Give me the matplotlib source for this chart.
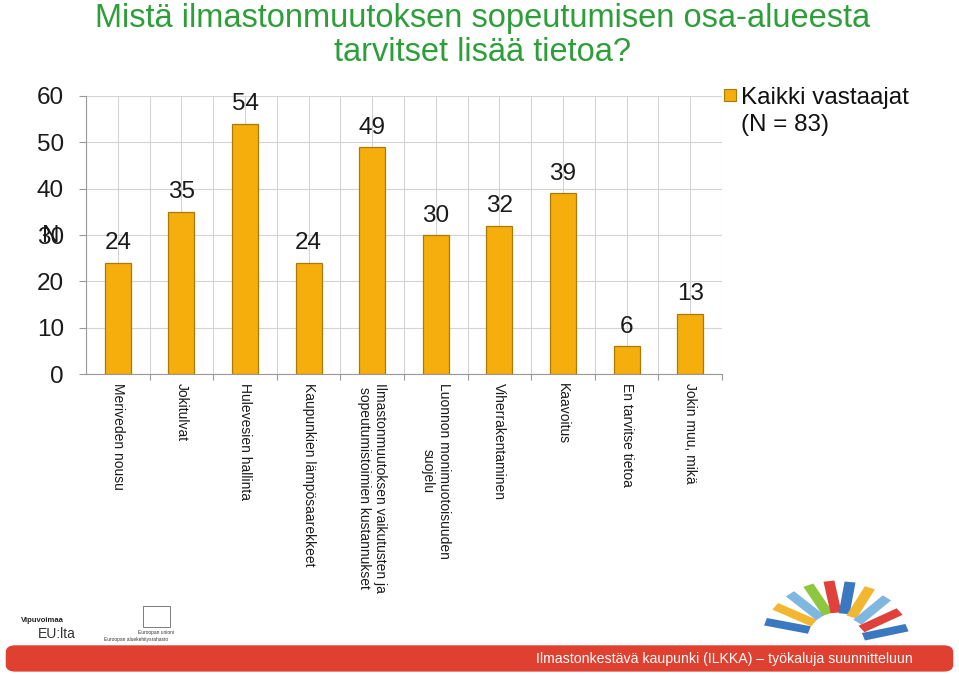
import numpy as np
import matplotlib
matplotlib.use("Agg")
import matplotlib.pyplot as plt
import matplotlib.patches as mpatches

plt.rcParams['font.family'] = ['Liberation Sans', 'DejaVu Sans']

# Chart data
categories = [
    "Meriveden nousu",
    "Jokitulvat",
    "Hulevesien hallinta",
    "Kaupunkien lämpösaarekkeet",
    "Ilmastonmuutoksen vaikutusten ja\nsopeutumistoimien kustannukset",
    "Luonnon monimuotoisuuden\nsuojelu",
    "Viherrakentaminen",
    "Kaavoitus",
    "En tarvitse tietoa",
    "Jokin muu, mikä",
]
values = [24, 35, 54, 24, 49, 30, 32, 39, 6, 13]
y_ticks = [0, 10, 20, 30, 40, 50, 60]
series_label = "Kaikki vastaajat\n(N = 83)"
title = "Mistä ilmastonmuutoksen sopeutumisen osa-alueesta\ntarvitset lisää tietoa?"
footer = "Ilmastonkestävä kaupunki (ILKKA) – työkaluja suunnitteluun"

bar_color = '#F5AE0C'
edge_color = '#A87A08'
title_color = '#2E9E3A'

fig = plt.figure(figsize=(9.59, 6.75), dpi=100)
ax = fig.add_axes([0.0897, 0.4459, 0.6632, 0.4119])

x = np.arange(len(categories))
ax.bar(x, values, width=0.41, color=bar_color, edgecolor=edge_color, linewidth=0.9,
       zorder=3, label=series_label)

for xi, v in zip(x, values):
    ax.annotate(str(v), (xi, v), xytext=(0, 6), textcoords='offset points',
                ha='center', va='bottom', fontsize=17.5, color='#1a1a1a')

ax.set_xlim(-0.5, len(categories) - 0.5)
ax.set_ylim(0, 60)
ax.set_yticks(y_ticks)
ax.set_yticklabels([str(t) for t in y_ticks], fontsize=17.5, color='#1a1a1a')

# gridlines every half category, horizontal every 10
for gx in np.arange(-0.5, len(categories), 0.5):
    ax.axvline(gx, color='#d4d4d4', linewidth=0.8, zorder=0)
ax.yaxis.grid(True, color='#d4d4d4', linewidth=0.8, zorder=0)
ax.set_axisbelow(True)

ax.set_xticks(x + 0.5)
ax.set_xticklabels([])
ax.tick_params(axis='x', length=4, color='#999999')
ax.tick_params(axis='y', length=5, color='#999999', pad=11)

for xi, lab in zip(x, categories):
    ax.text(xi, -2.0, lab, rotation=-90, ha='center', va='top', fontsize=10,
            multialignment='center', color='#1a1a1a')

for s in ['top', 'right']:
    ax.spines[s].set_visible(False)
ax.spines['left'].set_color('#999999')
ax.spines['bottom'].set_color('#999999')

# the "N" axis title sits on top of the 30 label, as in the original slide
fig.text(0.044, 0.65, "N", fontsize=17.5, color='#1a1a1a', ha='left', va='center')

# legend: square aligned with the first text line
key = mpatches.Rectangle((0.755, 0.850), 12 / 959, 12 / 675, transform=fig.transFigure,
                         facecolor=bar_color, edgecolor=edge_color, linewidth=0.8)
fig.patches.append(key)
fig.text(0.7727, 0.871, series_label, ha='left', va='top', fontsize=17.5,
         color='#111111', linespacing=1.3)

fig.text(0.503, 0.995, title, ha='center', va='top', fontsize=23.5,
         color=title_color, linespacing=1.1)

# footer band
band = mpatches.FancyBboxPatch((0.006, 0.005), 0.988, 0.039,
                               boxstyle='round,pad=0.0,rounding_size=0.01',
                               transform=fig.transFigure, facecolor='#E04030',
                               edgecolor='none')
fig.patches.append(band)
fig.text(0.952, 0.023, footer, ha='right', va='center', fontsize=10.2, color='white')

# left logos
fig.text(0.022, 0.078, "Vipuvoimaa", fontsize=5.5, fontweight='bold', color='#222222')
fig.text(0.039, 0.055, "EU:lta", fontsize=10, color='#333333')
eu = mpatches.Rectangle((0.149, 0.071), 0.028, 0.031, transform=fig.transFigure,
                        facecolor='white', edgecolor='#666666', linewidth=0.6)
fig.patches.append(eu)
fig.text(0.163, 0.061, "Euroopan unioni", fontsize=3.5, ha='center', color='#333333')
fig.text(0.142, 0.051, "Euroopan aluekehitysrahasto", fontsize=3.5, ha='center', color='#333333')

# city logo: fan of coloured blocks
logo_colors = ['#3B78C2', '#F2B630', '#7FB7E0', '#8DC63F', '#E0413A', '#3B78C2',
               '#F2B630', '#7FB7E0', '#E0413A', '#3B78C2']
cx, cy = 835, 34
fig_w, fig_h = 959, 675
for i, c in enumerate(logo_colors):
    ang = np.deg2rad(165 - i * 16.5)
    r = 28
    px = cx + r * np.cos(ang)
    py = cy + r * np.sin(ang)
    rect = mpatches.Rectangle((px / fig_w, py / fig_h), 11 / fig_w, 32 / fig_h,
                              angle=np.rad2deg(ang) - 90, transform=fig.transFigure,
                              facecolor=c, edgecolor='none')
    fig.patches.append(rect)

fig.savefig("out.png", dpi=100)
